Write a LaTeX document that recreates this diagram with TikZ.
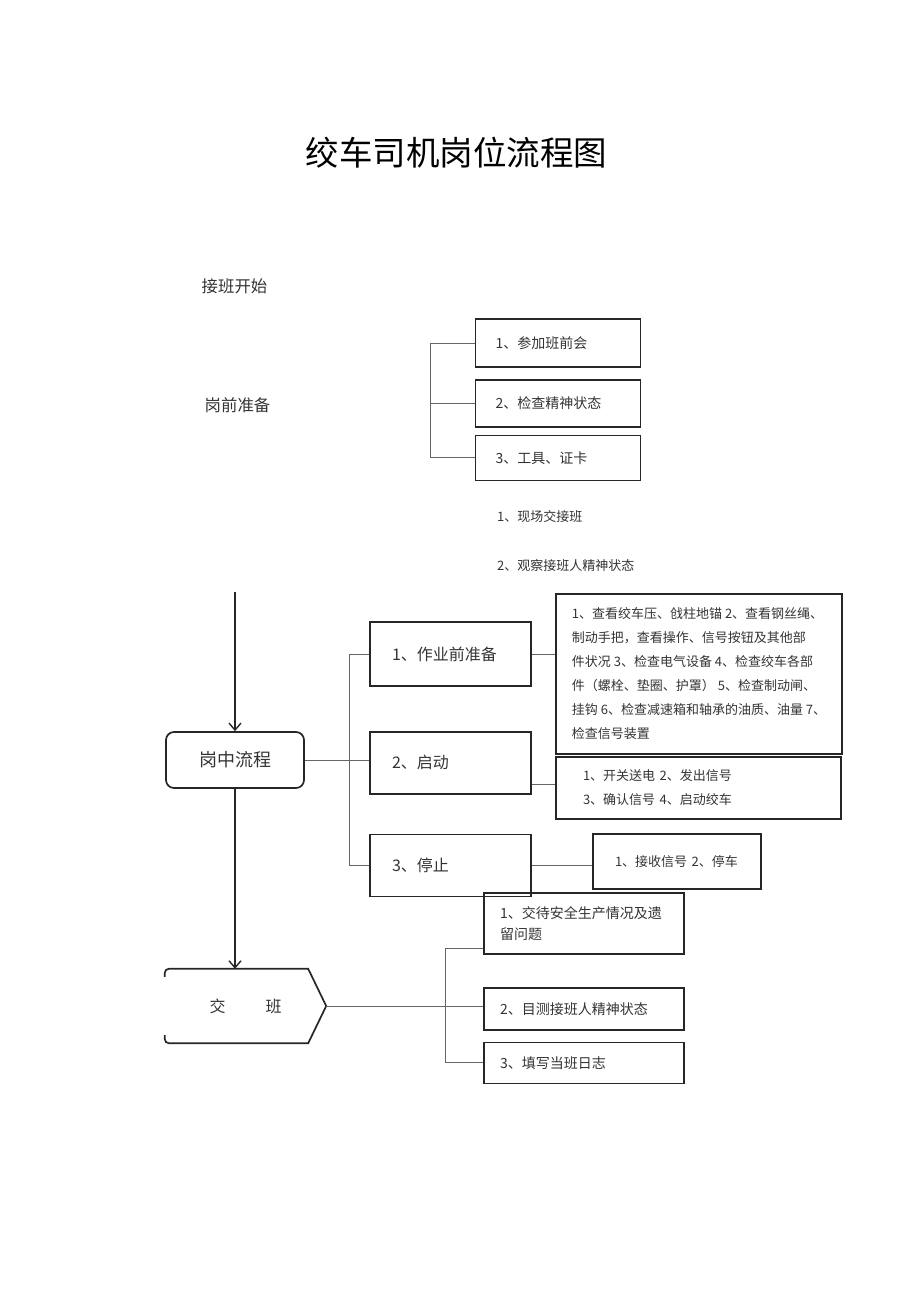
\documentclass[tikz,border=0pt]{standalone}
\usepackage{fontspec}
\setmainfont{Noto Sans CJK SC}
\usetikzlibrary{positioning,arrows.meta,calc}

\begin{document}
\begin{tikzpicture}[
    x=1pt, y=-1pt,
    outline/.style={draw=black!85, line width=1.7pt},
    frame/.style={rectangle, outline, align=left, text=black!80, font=\fontsize{14}{21}\selectfont},
    stepbox/.style={frame, text width=117pt, inner xsep=22pt, minimum height=62pt, font=\fontsize{16}{20}\selectfont},
    plain/.style={inner sep=0pt, text=black!80, font=\fontsize{13}{16}\selectfont},
    link/.style={draw=black!60, line width=0.9pt},
    arrow/.style={-{Straight Barb[length=7pt,width=12pt]}, draw=black!85, line width=1.4pt}
]
\useasboundingbox (0,0) rectangle (920,1301);

% title and headings
\node[font=\fontsize{33.5}{40}\selectfont] (title) at (456.5,153) {绞车司机岗位流程图};
\node[plain, font=\fontsize{16.4}{20}\selectfont] (start) at (234.5,286) {接班开始};
\node[plain, font=\fontsize{16.4}{20}\selectfont] (prep) at (237.5,405) {岗前准备};

% before the shift
\node[frame, text width=125pt, inner xsep=20pt, minimum height=48pt] (p1) at (558,343) {1、参加班前会};
\node[frame, text width=125pt, inner xsep=20pt, minimum height=47pt, below=11pt of p1] (p2) {2、检查精神状态};
\node[frame, text width=125pt, inner xsep=20pt, minimum height=45pt, below=7pt of p2] (p3) {3、工具、证卡};

\node[plain, anchor=west] (h1) at (497,517) {1、现场交接班};
\node[plain, anchor=west] (h2) at (497,566) {2、观察接班人精神状态};

% during the shift
\node[frame, rounded corners=8pt, minimum width=138pt, minimum height=56pt, align=center, font=\fontsize{18}{20}\selectfont] (mid) at (235,760) {岗中流程};

\node[stepbox, minimum height=64pt] (m1) at (450.5,654) {1、作业前准备};
\node[stepbox, below=44pt of m1] (m2) {2、启动};
\node[stepbox, below=39pt of m2] (m3) {3、停止};

\node[frame, minimum width=286pt, minimum height=160pt, font=\fontsize{13}{24}\selectfont] (d1) at (699,674) {1、查看绞车压、戗柱地锚 2、查看钢丝绳、\\制动手把，查看操作、信号按钮及其他部\\件状况 3、检查电气设备 4、检查绞车各部\\件（螺栓、垫圈、护罩） 5、检查制动闸、\\挂钩 6、检查减速箱和轴承的油质、油量 7、\\检查信号装置};
\node[frame, text width=231pt, inner xsep=27pt, minimum height=62pt, font=\fontsize{13}{24}\selectfont] (d2) at (698.5,788) {1、开关送电~2、发出信号\\3、确认信号~4、启动绞车};
\node[frame, text width=124pt, inner xsep=22pt, minimum height=55pt, font=\fontsize{13}{24}\selectfont] (d3) at (677,861.5) {1、接收信号~2、停车};

% handing over
\node[minimum width=161pt, minimum height=74pt, text=black!80, font=\fontsize{16}{20}\selectfont] (hand) at (245.5,1006) {交\hspace{40pt}班};
\draw[outline] ([yshift=-8pt]hand.north west) [rounded corners=4pt] -- (hand.north west) [sharp corners] -- ([xshift=-18pt]hand.north east) -- (hand.east) -- ([xshift=-18pt]hand.south east) [rounded corners=4pt] -- (hand.south west) [sharp corners] -- ([yshift=8pt]hand.south west);

\node[frame, text width=168pt, inner xsep=16pt, minimum height=61pt] (b1) at (584,923.5) {1、交待安全生产情况及遗\\留问题};
\node[frame, text width=168pt, inner xsep=16pt, minimum height=42pt, below=32pt of b1] (b2) {2、目测接班人精神状态};
\node[frame, text width=168pt, inner xsep=16pt, minimum height=41pt, below=11pt of b2] (b3) {3、填写当班日志};

% connectors
\coordinate (top) at (235,592);
\draw[arrow] (top) -- (mid);
\draw[arrow] (mid) -- (mid.south |- hand.north);

\draw[link] (p1.west) -- ++(-44,0) |- (p3.west);
\draw[link] (p2.west) -- ++(-44,0);

\draw[link] (mid.east) -- (mid.east -| m2.west);
\draw[link] (m1.west) -- ++(-20,0) |- (m3.west);
\draw[link] (m1.east) -- (m1.east -| d1.west);
\draw[link] ([yshift=4pt]d2.west -| m2.east) -- ([yshift=4pt]d2.west);
\draw[link] (m3.east) -- (m3.east -| d3.west);

\draw[link] (hand.east) -- (hand.east -| b2.west);
\draw[link] (b3.west) -- ++(-38,0) |- ([yshift=6pt]b1.south west);

\end{tikzpicture}
\end{document}
